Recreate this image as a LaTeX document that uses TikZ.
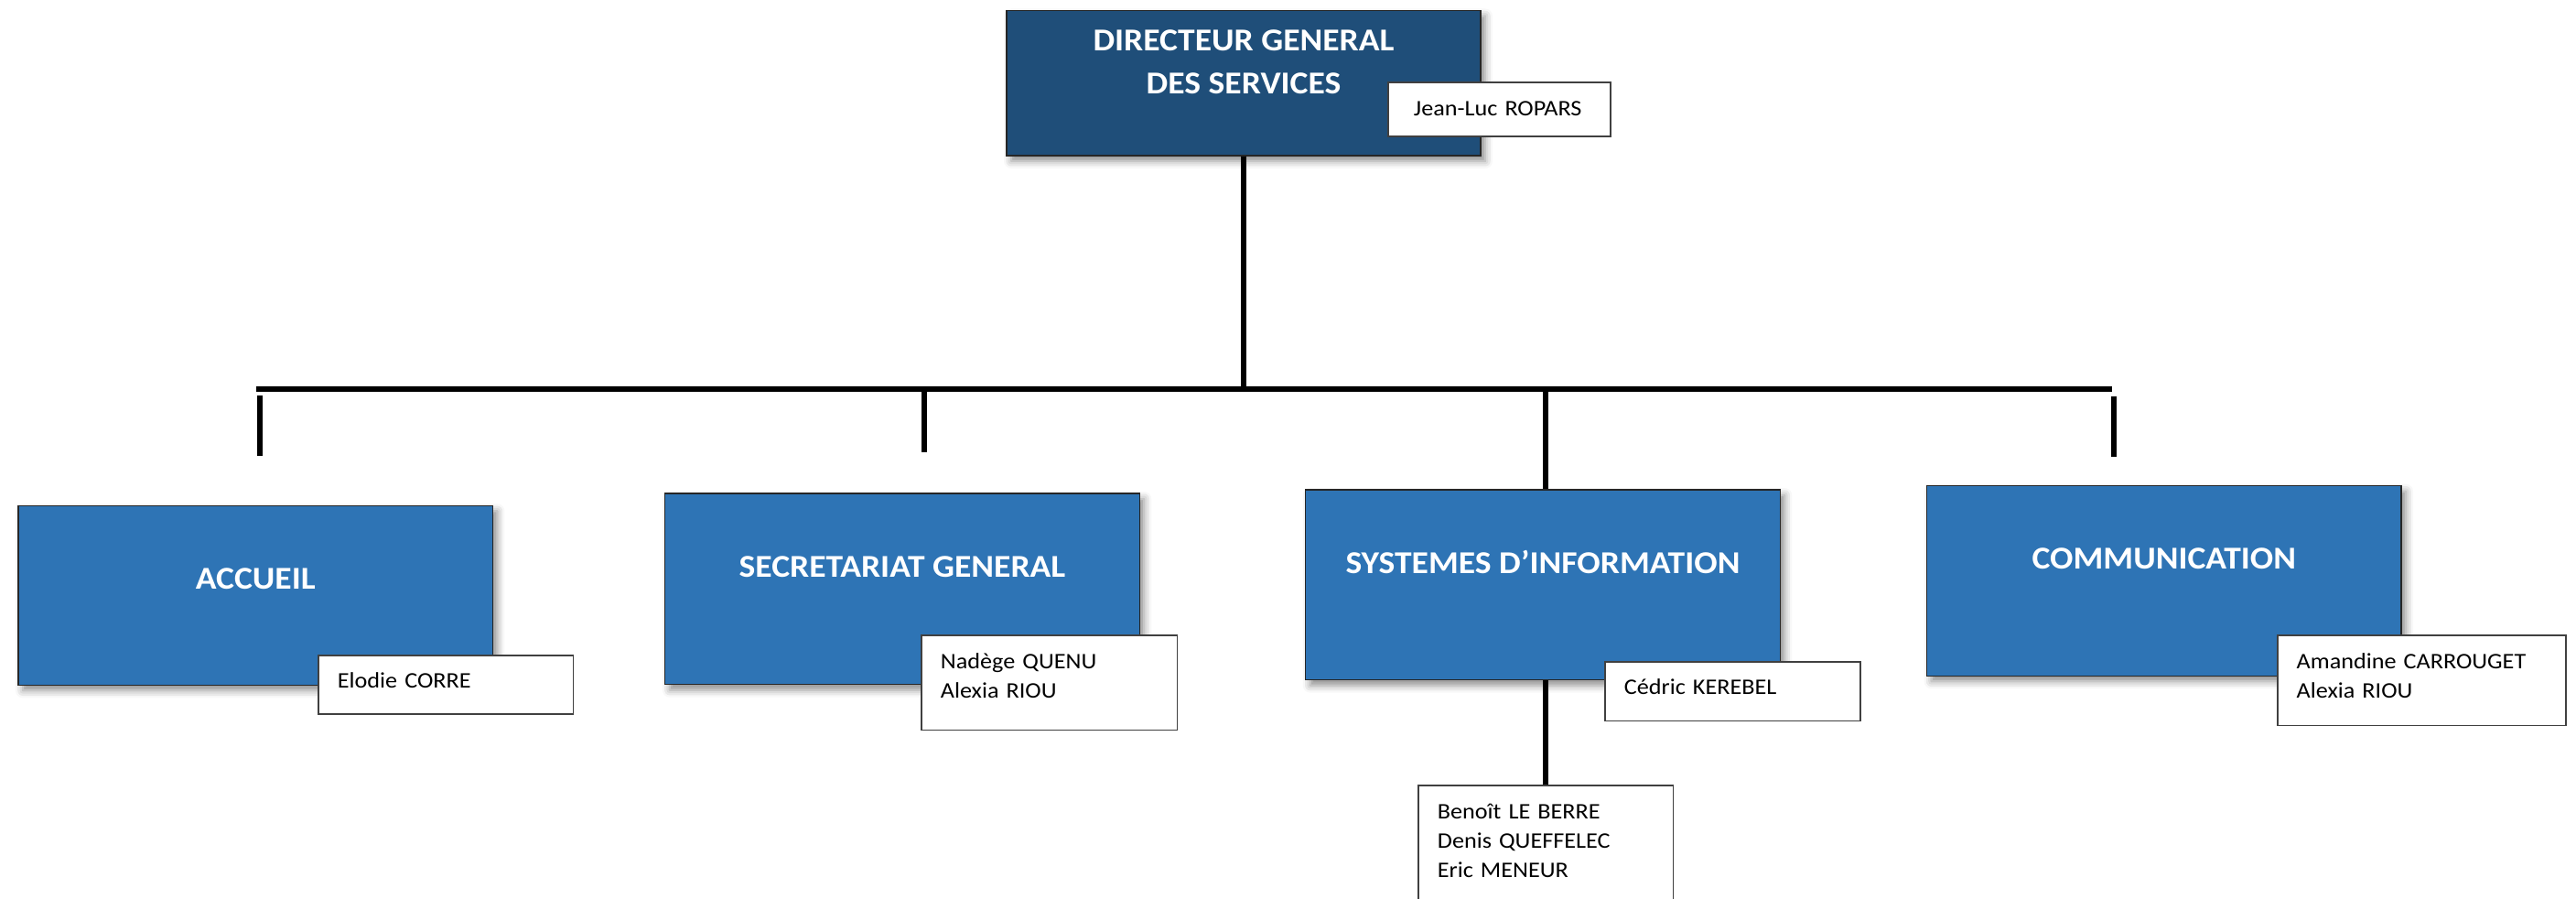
\documentclass[tikz,border=0pt]{standalone}
\usepackage{fontspec}
\setmainfont{Carlito}[FakeStretch=1.08]
\usetikzlibrary{shadows.blur}
\definecolor{bleufonce}{HTML}{1F4E79}
\definecolor{bleu}{HTML}{2E74B5}

\begin{document}
\begin{tikzpicture}
\tikzset{ombre/.style={blur shadow={shadow xshift=0.05cm, shadow yshift=-0.06cm, shadow blur radius=0.08cm, shadow opacity=45}},
  titre/.style={text=white, font=\fontsize{9.9pt}{13.37pt}\selectfont\bfseries},
  direction/.style={titre, ombre, draw=black!85, line width=0.4pt, fill=bleufonce, anchor=north, align=center, minimum width=5.18cm, inner sep=0pt, text height=0.913cm, text depth=0.673cm},
  service/.style={titre, ombre, draw=black!85, line width=0.4pt, fill=bleu, anchor=base, minimum width=5.185cm, inner sep=0pt, text height=0.91cm},
  nom/.style={draw=black!75, line width=0.5pt, fill=white, anchor=north west, align=left, inner xsep=0.21cm, inner ysep=0pt, text height=0.36cm, font=\fontsize{6.9pt}{9.1pt}\selectfont},
  trait/.style={line width=0.06cm}}
\useasboundingbox (0,0) rectangle (28.15,-9.82);
\clip (0,0) rectangle (28.15,-9.82);
% direction
\node[direction] (dgs) at (13.59,-0.107) {DIRECTEUR GENERAL\\DES SERVICES};
\node[nom, inner xsep=0.28cm, text width=1.87cm, text depth=0.232cm] (ropars) at (15.16,-0.893) {Jean-Luc ROPARS};
% services
\node[service, text depth=1.05cm] (accueil) at (2.792,-6.433) {ACCUEIL};
\node[service, text depth=1.177cm] (secretariat) at (9.86,-6.30) {SECRETARIAT GENERAL};
\node[service, text depth=1.167cm] (si) at (16.86,-6.26) {SYSTEMES D’INFORMATION};
\node[service, text depth=1.166cm] (com) at (23.648,-6.217) {COMMUNICATION};
% agents
\node[nom, text width=2.367cm, text depth=0.283cm] (corre) at (3.47,-7.15) {Elodie CORRE};
\node[nom, text width=2.375cm, text depth=0.674cm] (quenu) at (10.06,-6.933) {Nadège QUENU\\Alexia RIOU};
\node[nom, text width=2.37cm, text depth=0.294cm, text height=0.35cm] (kerebel) at (17.53,-7.223) {Cédric KEREBEL};
\node[nom, text width=2.367cm, text depth=1.04cm] (berre) at (15.49,-8.573) {Benoît LE BERRE\\Denis QUEFFELEC\\Eric MENEUR};
\node[nom, text width=2.731cm, text depth=0.624cm] (carrouget) at (24.878,-6.933) {Amandine CARROUGET\\Alexia RIOU};
% liaisons
\coordinate (bus-g) at (2.80,-4.253);
\coordinate (bus-d) at (23.08,-4.253);
\coordinate (acc-h) at (2.84,-4.323);
\coordinate (acc-b) at (2.84,-4.983);
\coordinate (sec-h) at (10.097,-4.253);
\coordinate (sec-b) at (10.097,-4.943);
\coordinate (si-h) at (16.887,-4.253);
\coordinate (com-h) at (23.097,-4.327);
\coordinate (com-b) at (23.097,-4.99);
\draw[trait] (bus-g) -- (bus-d);
\draw[trait] (dgs.south) -- (dgs.south |- bus-g);
\draw[trait] (acc-h) -- (acc-b);
\draw[trait] (sec-h) -- (sec-b);
\draw[trait] (si-h) -- (si-h |- si.north);
\draw[trait] (com-h) -- (com-b);
\draw[trait] (berre.north |- si.south) -- (berre.north);
\end{tikzpicture}
\end{document}
